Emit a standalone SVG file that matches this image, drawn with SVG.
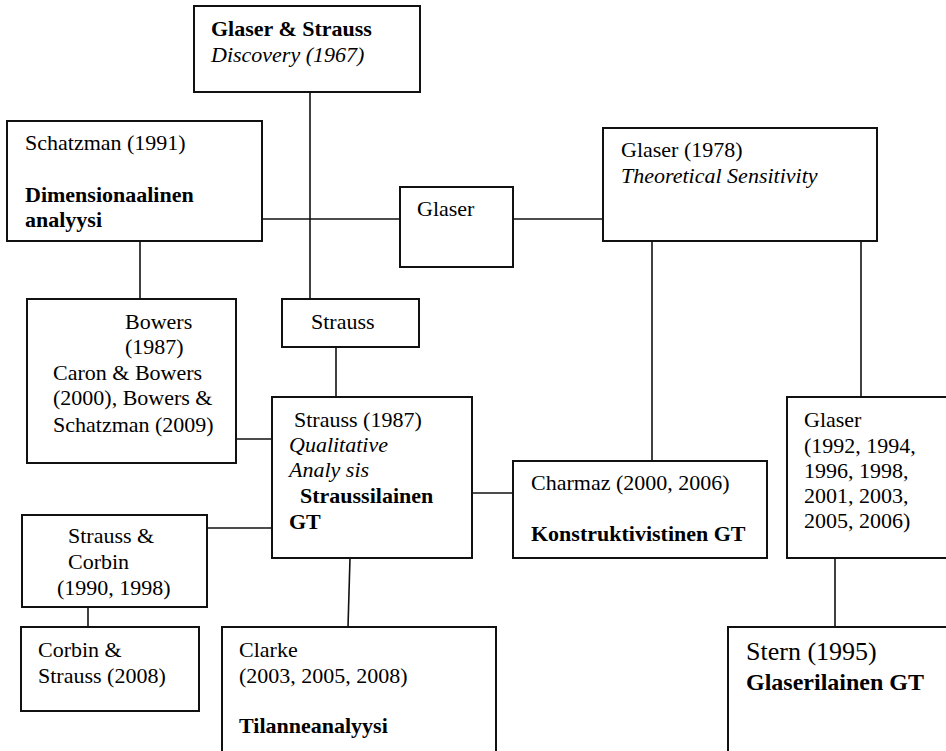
<svg xmlns="http://www.w3.org/2000/svg" width="946" height="751" viewBox="0 0 946 751">
<style>
rect{fill:#fff;stroke:#111;stroke-width:2}
line{stroke:#111;stroke-width:1.6}
text{font-family:"Liberation Serif","Times New Roman",serif;font-size:22px;fill:#000}
.b{font-weight:bold}
.i{font-style:italic}
</style>
<rect x="0" y="0" width="946" height="751" style="stroke:none"/>
<g id="connectors">
<line x1="310" y1="92" x2="310" y2="299"/>
<line x1="262" y1="219" x2="400" y2="219"/>
<line x1="513" y1="219" x2="603" y2="219"/>
<line x1="140" y1="241" x2="140" y2="299"/>
<line x1="336" y1="347" x2="336" y2="397"/>
<line x1="236" y1="439" x2="272" y2="439"/>
<line x1="207" y1="528" x2="272" y2="528"/>
<line x1="472" y1="493" x2="513" y2="493"/>
<line x1="652" y1="241" x2="652" y2="461"/>
<line x1="861" y1="241" x2="861" y2="397"/>
<line x1="350" y1="558" x2="348" y2="627"/>
<line x1="88" y1="607" x2="88" y2="627"/>
<line x1="835" y1="558" x2="835" y2="627"/>
</g>
<g id="glaser-strauss">
<rect x="194" y="6" width="226" height="86"/>
<text x="211" y="36" class="b">Glaser &amp; Strauss</text>
<text x="211" y="62" class="i">Discovery (1967)</text>
</g>
<g id="schatzman">
<rect x="7" y="121" width="255" height="120"/>
<text x="25" y="150">Schatzman (1991)</text>
<text x="25" y="202" class="b">Dimensionaalinen</text>
<text x="25" y="227" class="b">analyysi</text>
</g>
<g id="glaser">
<rect x="400" y="187" width="113" height="80"/>
<text x="417" y="216">Glaser</text>
</g>
<g id="glaser-1978">
<rect x="603" y="128" width="274" height="113"/>
<text x="621" y="157">Glaser (1978)</text>
<text x="621" y="183" class="i">Theoretical Sensitivity</text>
</g>
<g id="bowers">
<rect x="27" y="299" width="209" height="164"/>
<text x="125" y="329">Bowers</text>
<text x="125" y="354">(1987)</text>
<text x="53" y="380">Caron &amp; Bowers</text>
<text x="53" y="405">(2000), Bowers &amp;</text>
<text x="53" y="432">Schatzman (2009)</text>
</g>
<g id="strauss">
<rect x="282" y="299" width="137" height="48"/>
<text x="311" y="329">Strauss</text>
</g>
<g id="strauss-1987">
<rect x="272" y="397" width="200" height="161"/>
<text x="294" y="427">Strauss (1987)</text>
<text x="289" y="452" class="i">Qualitative</text>
<text x="289" y="477" class="i">Analy sis</text>
<text x="300" y="503" class="b">Straussilainen</text>
<text x="289" y="529" class="b">GT</text>
</g>
<g id="charmaz">
<rect x="513" y="461" width="254" height="97"/>
<text x="531" y="490">Charmaz (2000, 2006)</text>
<text x="531" y="541" class="b">Konstruktivistinen GT</text>
</g>
<g id="glaser-1992">
<rect x="787" y="397" width="200" height="161"/>
<text x="804" y="427">Glaser</text>
<text x="804" y="453">(1992, 1994,</text>
<text x="804" y="478">1996, 1998,</text>
<text x="804" y="503">2001, 2003,</text>
<text x="804" y="528">2005, 2006)</text>
</g>
<g id="strauss-corbin">
<rect x="22" y="515" width="185" height="92"/>
<text x="68" y="543">Strauss &amp;</text>
<text x="68" y="569">Corbin</text>
<text x="57" y="595">(1990, 1998)</text>
</g>
<g id="corbin-strauss">
<rect x="21" y="627" width="178" height="84"/>
<text x="38" y="657">Corbin &amp;</text>
<text x="38" y="683">Strauss (2008)</text>
</g>
<g id="clarke">
<rect x="222" y="627" width="274" height="200"/>
<text x="239" y="657">Clarke</text>
<text x="239" y="683">(2003, 2005, 2008)</text>
<text x="239" y="733" class="b">Tilanneanalyysi</text>
</g>
<g id="stern">
<rect x="728" y="627" width="300" height="200"/>
<text x="746" y="660" style="font-size:26px">Stern (1995)</text>
<text x="746" y="690" class="b" style="font-size:24px">Glaserilainen GT</text>
</g>
</svg>
